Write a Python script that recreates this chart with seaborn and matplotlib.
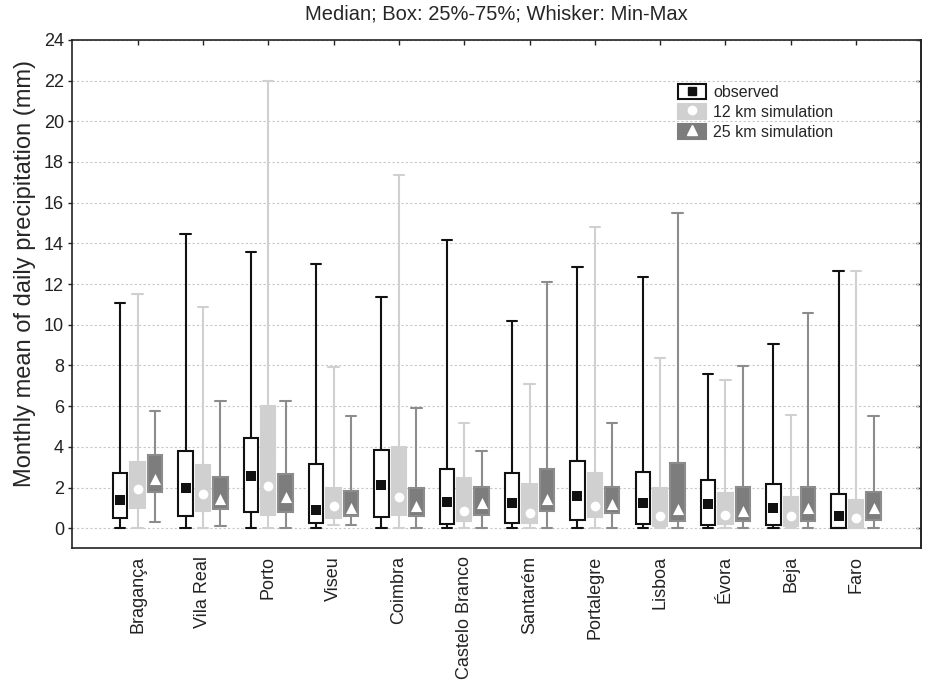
import numpy as np
import pandas as pd
import matplotlib.pyplot as plt
import seaborn as sns
from matplotlib.patches import Patch
from matplotlib.lines import Line2D

sns.set_style("white")
plt.rcParams['font.family'] = ['Liberation Sans', 'DejaVu Sans']

stations = ["Bragança", "Vila Real", "Porto", "Viseu", "Coimbra", "Castelo Branco",
            "Santarém", "Portalegre", "Lisboa", "Évora", "Beja", "Faro"]
series = ["observed", "12 km simulation", "25 km simulation"]

# observed
obs_min = [0.0, 0.0, 0.0, 0.0, 0.0, 0.0, 0.0, 0.0, 0.0, 0.0, 0.0, 0.0]
obs_q1 = [0.48, 0.61, 0.82, 0.28, 0.56, 0.23, 0.28, 0.41, 0.21, 0.15, 0.15, 0.03]
obs_med = [1.37, 1.98, 2.58, 0.91, 2.10, 1.30, 1.25, 1.56, 1.25, 1.17, 0.97, 0.58]
obs_q3 = [2.70, 3.79, 4.43, 3.18, 3.84, 2.91, 2.70, 3.31, 2.78, 2.39, 2.17, 1.70]
obs_max = [11.05, 14.44, 13.58, 12.97, 11.37, 14.17, 10.19, 12.86, 12.36, 7.57, 9.04, 12.64]

# 12 km simulation
s12_min = [0.03, 0.03, 0.03, 0.16, 0.0, 0.03, 0.03, 0.0, 0.03, 0.03, 0.03, 0.0]
s12_q1 = [1.00, 0.87, 0.66, 0.48, 0.66, 0.33, 0.26, 0.54, 0.13, 0.20, 0.13, 0.00]
s12_med = [1.94, 1.66, 2.07, 1.09, 1.55, 0.87, 0.74, 1.07, 0.61, 0.67, 0.61, 0.48]
s12_q3 = [3.26, 3.11, 5.99, 1.98, 4.00, 2.47, 2.19, 2.70, 1.98, 1.71, 1.51, 1.38]
s12_max = [11.52, 10.85, 22.0, 7.92, 17.35, 5.17, 7.09, 14.8, 8.38, 7.29, 5.58, 12.64]

# 25 km simulation
s25_min = [0.30, 0.10, 0.03, 0.16, 0.03, 0.03, 0.03, 0.03, 0.0, 0.03, 0.03, 0.03]
s25_q1 = [1.79, 0.92, 0.81, 0.59, 0.59, 0.66, 0.87, 0.74, 0.35, 0.35, 0.35, 0.41]
s25_med = [2.40, 1.45, 1.53, 1.00, 1.07, 1.25, 1.45, 1.17, 0.92, 0.84, 1.00, 1.00]
s25_q3 = [3.59, 2.52, 2.65, 1.84, 1.98, 2.04, 2.91, 2.04, 3.19, 2.04, 2.04, 1.78]
s25_max = [5.76, 6.24, 6.24, 5.50, 5.91, 3.79, 12.12, 5.17, 15.5, 7.97, 10.58, 5.50]

stats = {
    "observed": (obs_min, obs_q1, obs_med, obs_q3, obs_max),
    "12 km simulation": (s12_min, s12_q1, s12_med, s12_q3, s12_max),
    "25 km simulation": (s25_min, s25_q1, s25_med, s25_q3, s25_max),
}

# five summary values per box -> with whis=(0, 100) the box stats are exact
rows = []
for s, cols in stats.items():
    for i, st in enumerate(stations):
        for v in (c[i] for c in cols):
            rows.append((st, s, v))
df = pd.DataFrame(rows, columns=["station", "series", "value"])
med_df = pd.DataFrame([(st, s, stats[s][2][i]) for s in series for i, st in enumerate(stations)],
                      columns=["station", "series", "value"])

face = {"observed": "white", "12 km simulation": "#d0d0d0", "25 km simulation": "#7d7d7d"}
line = {"observed": "#111111", "12 km simulation": "#d0d0d0", "25 km simulation": "#8c8c8c"}
mark = {"observed": ("s", "#111111", 7), "12 km simulation": ("o", "white", 7),
        "25 km simulation": ("^", "white", 8)}

fig = plt.figure(figsize=(9.27, 6.87), dpi=100)
ax = fig.add_axes([0.078, 0.203, 0.916, 0.739])

for s in series:
    sub = df[df["series"] == s]
    sns.boxplot(data=sub, x="station", y="value", hue="series", order=stations, hue_order=series,
                palette=face, saturation=1, linecolor=line[s], linewidth=1.5, dodge=True,
                whis=(0, 100), width=0.8, gap=0.17, legend=False, capwidths=0.16,
                medianprops={"visible": False}, ax=ax)
    m, c, sz = mark[s]
    sns.stripplot(data=med_df[med_df["series"] == s], x="station", y="value", hue="series",
                  order=stations, hue_order=series, dodge=True, jitter=False,
                  palette={k: c for k in series}, marker=m, size=sz, linewidth=0,
                  legend=False, zorder=4, ax=ax)

ax.set_xlim(-1, 12)
ax.set_ylim(-0.95, 24)
ax.set_yticks(np.arange(0, 25, 2))
ax.yaxis.grid(True, linestyle=(0, (2, 2)), color="#c8c8c8", linewidth=0.8)
ax.xaxis.grid(False)
ax.set_axisbelow(True)
for sp in ax.spines.values():
    sp.set_color("#222222")
    sp.set_linewidth(1.2)
ax.tick_params(direction="in", top=True, right=True, length=3.5, width=1, colors="#222222")
ax.tick_params(axis="y", which="both", left=True, labelsize=13, pad=3)
ax.yaxis.set_tick_params(which="major", direction="out", left=True, right=False, length=3)
ax.tick_params(axis="x", labelrotation=90, labelsize=13, pad=6)
# inward ticks on the right side
axr = ax.secondary_yaxis("right")
axr.set_yticks(np.arange(0, 25, 2))
axr.tick_params(direction="in", length=3.5, width=1, colors="#222222", labelright=False)
axr.spines["right"].set_linewidth(1.2)
axr.spines["right"].set_color("#222222")

ax.set_xlabel("")
ax.set_ylabel("Monthly mean of daily precipitation (mm)", fontsize=17)
ax.yaxis.set_label_coords(-0.043, 0.54)
ax.set_title("Median; Box: 25%-75%; Whisker: Min-Max", fontsize=14.5, pad=15)

handles = []
for s in series:
    m, c, sz = mark[s]
    p = Patch(facecolor=face[s], edgecolor=line[s] if s == "observed" else face[s], linewidth=1.5)
    handles.append((p, Line2D([], [], marker=m, color=c, linestyle="", markersize=sz - 1)))
ax.legend(handles, series, loc="upper left", bbox_to_anchor=(0.706, 0.925), frameon=False,
          handlelength=1.75, handleheight=1.05, handletextpad=0.45, labelspacing=0.24,
          fontsize=11.5, borderaxespad=0)

fig.savefig("out.png", dpi=100)
